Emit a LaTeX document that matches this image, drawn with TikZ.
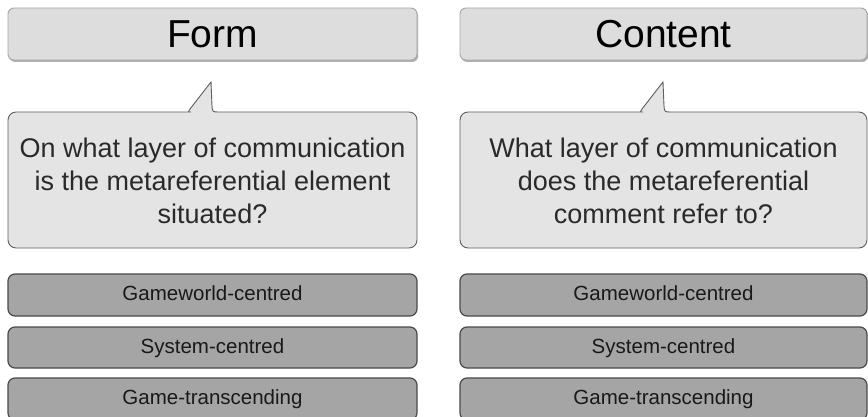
\documentclass[tikz,border=0pt]{standalone}
\usepackage{fontspec}
\setmainfont{Liberation Sans}
\usetikzlibrary{shadows}
\definecolor{headfill}{HTML}{DDDDDD}
\definecolor{headline}{HTML}{A6A6A6}
\definecolor{bubblefill}{HTML}{E4E4E4}
\definecolor{bubbleline}{HTML}{5E5E5E}
\definecolor{layerfill}{HTML}{A5A5A5}
\definecolor{layerline}{HTML}{4A4A4A}
\definecolor{bubbletext}{HTML}{2A2A2A}
\tikzset{
  header/.style={draw=headline, line width=0.9pt, fill=headfill, rounded corners=6pt,
    minimum height=52pt, inner sep=0pt, text=black,
    font=\fontsize{39}{44}\selectfont,
    drop shadow={shadow xshift=1.2pt, shadow yshift=-2pt, opacity=0.3, fill=black}},
  bubble/.style={draw=bubbleline, line width=0.9pt, fill=bubblefill},
  question/.style={align=center, text=bubbletext, inner sep=0pt,
    font=\fontsize{27}{33}\selectfont},
  layer/.style={draw=layerline, line width=1.2pt, fill=layerfill, rounded corners=7pt,
    inner sep=0pt, text=black!90, text height=12pt, text depth=1pt,
    font=\fontsize{20.5}{24}\selectfont}
}
\begin{document}
\begin{tikzpicture}[x=1pt, y=-1pt]
\useasboundingbox (0,0) rectangle (868,417);
\clip (0,0) rectangle (868,417);

% column headers
\node[header, minimum width=409pt] (formhead) at (212.5,34) {Form};
\node[header, minimum width=407pt] (conthead) at (663.5,34) {Content};

% speech bubbles with an upward tail
\draw[bubble] (183,112) .. controls (188,112) .. (190,109) -- (211,82) -- (212,106)
  .. controls (212.5,112) .. (219,112) [rounded corners=8pt]
  -- (417,112) -- (417,248) -- (8,248) -- (8,112) -- cycle;
\draw[bubble] (635,112) .. controls (640,112) .. (642,109) -- (663,82) -- (664,106)
  .. controls (664.5,112) .. (671,112) [rounded corners=8pt]
  -- (867,112) -- (867,248) -- (460,248) -- (460,112) -- cycle;

\node[question] (formq) at (212.5,181) {On what layer of communication\\is the metareferential element\\situated?};
\node[question] (contq) at (663.5,181) {What layer of communication\\does the metareferential\\comment refer to?};

% layers of communication
\node[layer, minimum width=409pt, minimum height=42pt] (fgame) at (212.5,295) {Gameworld-centred};
\node[layer, minimum width=409pt, minimum height=41pt] (fsys)  at (212.5,347.5) {System-centred};
\node[layer, minimum width=409pt, minimum height=42pt] (ftrans) at (212.5,399) {Game-transcending};

\node[layer, minimum width=407pt, minimum height=42pt] (cgame) at (663.5,295) {Gameworld-centred};
\node[layer, minimum width=407pt, minimum height=41pt] (csys)  at (663.5,347.5) {System-centred};
\node[layer, minimum width=407pt, minimum height=42pt] (ctrans) at (663.5,399) {Game-transcending};
\end{tikzpicture}
\end{document}
